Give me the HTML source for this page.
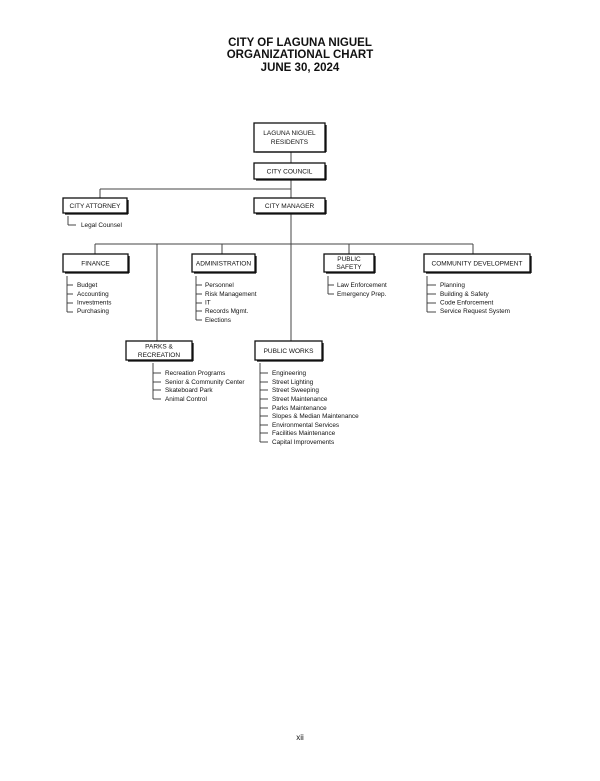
<!DOCTYPE html>
<html><head><style>
body{margin:0;background:#fff;}
svg text{font-family:"Liberation Sans",sans-serif;fill:#111;}
.t{font-size:11.5px;font-weight:bold;text-anchor:middle}
.b{font-size:6.5px;text-anchor:middle}
.i{font-size:6.4px}
</style></head><body>
<svg width="600" height="776" viewBox="0 0 600 776" xmlns="http://www.w3.org/2000/svg">
<text class="t" x="300" y="46">CITY OF LAGUNA NIGUEL</text>
<text class="t" x="300" y="58">ORGANIZATIONAL CHART</text>
<text class="t" x="300" y="71">JUNE 30, 2024</text>
<g stroke="#444" stroke-width="1" fill="none">
<line x1="291" y1="152" x2="291" y2="163"/>
<line x1="291" y1="179" x2="291" y2="341"/>
<line x1="100" y1="189" x2="291" y2="189"/>
<line x1="100" y1="189" x2="100" y2="198"/>
<line x1="95" y1="244" x2="473" y2="244"/>
<line x1="95" y1="244" x2="95" y2="254"/>
<line x1="157" y1="244" x2="157" y2="341"/>
<line x1="222" y1="244" x2="222" y2="254"/>
<line x1="349" y1="244" x2="349" y2="254"/>
<line x1="473" y1="244" x2="473" y2="254"/>
</g>
<g fill="#fff" stroke="#111" stroke-width="1.3">
<rect x="254" y="123" width="71" height="29"/>
<rect x="254" y="163" width="71" height="16"/>
<rect x="63" y="198" width="64" height="15"/>
<rect x="254" y="198" width="71" height="15"/>
<rect x="63" y="254" width="65" height="18"/>
<rect x="192" y="254" width="63" height="18"/>
<rect x="324" y="254" width="50" height="18"/>
<rect x="424" y="254" width="106" height="18"/>
<rect x="126" y="341" width="66" height="19"/>
<rect x="255" y="341" width="67" height="19"/>
</g>
<g stroke="#111" stroke-width="1.3">
<line x1="256" y1="152" x2="326" y2="152"/><line x1="326" y1="125" x2="326" y2="152"/>
<line x1="256" y1="180" x2="326" y2="180"/><line x1="326" y1="165" x2="326" y2="180"/>
<line x1="65" y1="214" x2="128" y2="214"/><line x1="128" y1="200" x2="128" y2="214"/>
<line x1="256" y1="214" x2="326" y2="214"/><line x1="326" y1="200" x2="326" y2="214"/>
<line x1="65" y1="273" x2="129" y2="273"/><line x1="129" y1="256" x2="129" y2="273"/>
<line x1="194" y1="273" x2="256" y2="273"/><line x1="256" y1="256" x2="256" y2="273"/>
<line x1="326" y1="273" x2="375" y2="273"/><line x1="375" y1="256" x2="375" y2="273"/>
<line x1="426" y1="273" x2="531" y2="273"/><line x1="531" y1="256" x2="531" y2="273"/>
<line x1="128" y1="361" x2="193" y2="361"/><line x1="193" y1="343" x2="193" y2="361"/>
<line x1="257" y1="361" x2="323" y2="361"/><line x1="323" y1="343" x2="323" y2="361"/>
</g>
<text class="b" x="289.5" y="135">LAGUNA NIGUEL</text>
<text class="b" x="289.5" y="144">RESIDENTS</text>
<text class="b" x="289.5" y="173.5">CITY COUNCIL</text>
<text class="b" x="95" y="208">CITY ATTORNEY</text>
<text class="b" x="289.5" y="208">CITY MANAGER</text>
<text class="b" x="95.5" y="265.5">FINANCE</text>
<text class="b" x="223.5" y="265.5">ADMINISTRATION</text>
<text class="b" x="349" y="261">PUBLIC</text>
<text class="b" x="349" y="269">SAFETY</text>
<text class="b" x="477" y="265.5">COMMUNITY DEVELOPMENT</text>
<text class="b" x="159" y="348.5">PARKS &amp;</text>
<text class="b" x="159" y="357">RECREATION</text>
<text class="b" x="288.5" y="353">PUBLIC WORKS</text>
<g stroke="#333" stroke-width="0.9">
<line x1="68" y1="216" x2="68" y2="225"/><line x1="68" y1="225" x2="76" y2="225"/>
<line x1="67" y1="276" x2="67" y2="312"/>
<line x1="67" y1="285" x2="73" y2="285"/><line x1="67" y1="294" x2="73" y2="294"/><line x1="67" y1="303" x2="73" y2="303"/><line x1="67" y1="312" x2="73" y2="312"/>
<line x1="196" y1="276" x2="196" y2="320"/>
<line x1="196" y1="285" x2="202" y2="285"/><line x1="196" y1="294" x2="202" y2="294"/><line x1="196" y1="303" x2="202" y2="303"/><line x1="196" y1="311" x2="202" y2="311"/><line x1="196" y1="320" x2="202" y2="320"/>
<line x1="328" y1="276" x2="328" y2="294"/>
<line x1="328" y1="285" x2="334" y2="285"/><line x1="328" y1="294" x2="334" y2="294"/>
<line x1="427" y1="276" x2="427" y2="312"/>
<line x1="427" y1="285" x2="436" y2="285"/><line x1="427" y1="294" x2="436" y2="294"/><line x1="427" y1="303" x2="436" y2="303"/><line x1="427" y1="312" x2="436" y2="312"/>
<line x1="153" y1="363" x2="153" y2="399"/>
<line x1="153" y1="373" x2="161" y2="373"/><line x1="153" y1="382" x2="161" y2="382"/><line x1="153" y1="390" x2="161" y2="390"/><line x1="153" y1="399" x2="161" y2="399"/>
<line x1="260" y1="363" x2="260" y2="442"/>
<line x1="260" y1="373" x2="268" y2="373"/><line x1="260" y1="382" x2="268" y2="382"/><line x1="260" y1="390" x2="268" y2="390"/><line x1="260" y1="399" x2="268" y2="399"/><line x1="260" y1="408" x2="268" y2="408"/><line x1="260" y1="416" x2="268" y2="416"/><line x1="260" y1="425" x2="268" y2="425"/><line x1="260" y1="433" x2="268" y2="433"/><line x1="260" y1="442" x2="268" y2="442"/>
</g>
<g class="i">
<text x="81" y="227">Legal Counsel</text>
<text x="77" y="287">Budget</text><text x="77" y="296">Accounting</text><text x="77" y="304.5">Investments</text><text x="77" y="313">Purchasing</text>
<text x="205" y="287">Personnel</text><text x="205" y="296">Risk Management</text><text x="205" y="304.5">IT</text><text x="205" y="313">Records Mgmt.</text><text x="205" y="322">Elections</text>
<text x="337" y="287">Law Enforcement</text><text x="337" y="296">Emergency Prep.</text>
<text x="440" y="287">Planning</text><text x="440" y="296">Building &amp; Safety</text><text x="440" y="304.5">Code Enforcement</text><text x="440" y="313">Service Request System</text>
<text x="165" y="375">Recreation Programs</text><text x="165" y="384">Senior &amp; Community Center</text><text x="165" y="392">Skateboard Park</text><text x="165" y="401">Animal Control</text>
<text x="272" y="375">Engineering</text><text x="272" y="384">Street Lighting</text><text x="272" y="392">Street Sweeping</text><text x="272" y="401">Street Maintenance</text><text x="272" y="410">Parks Maintenance</text><text x="272" y="418">Slopes &amp; Median Maintenance</text><text x="272" y="427">Environmental Services</text><text x="272" y="435">Facilities Maintenance</text><text x="272" y="444">Capital Improvements</text>
</g>
<text x="300" y="740" style="font-size:8px;text-anchor:middle">xii</text>
</svg>
</body></html>
